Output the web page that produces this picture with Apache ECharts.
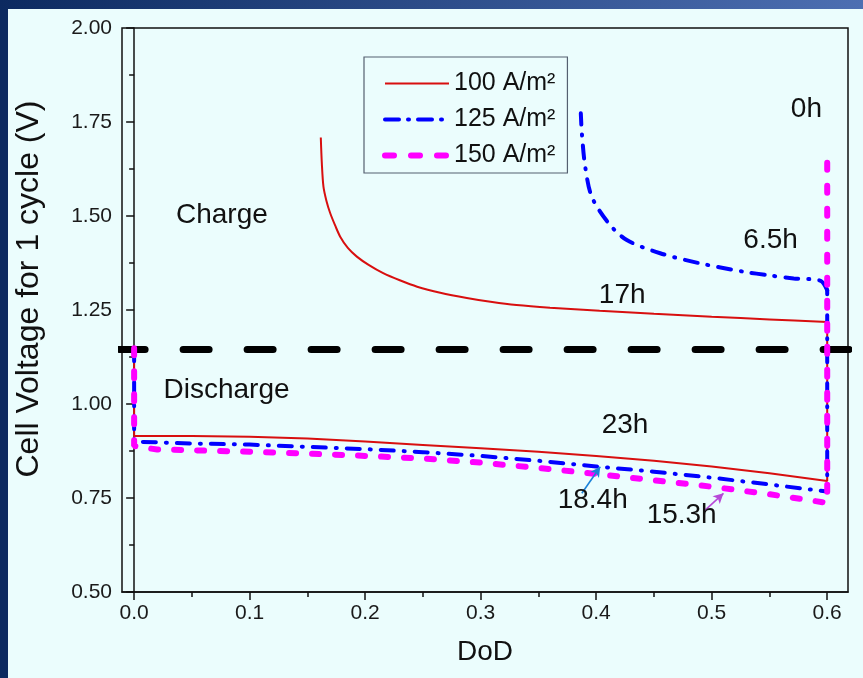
<!DOCTYPE html>
<html>
<head>
<meta charset="utf-8">
<script src="https://cdn.jsdelivr.net/npm/echarts@6/dist/echarts.min.js"></script>
<style>
  html, body { margin: 0; padding: 0; background: #ebfdfd; }
  #chart { width: 863px; height: 678px; }
</style>
</head>
<body>
<div id="chart"></div>
<script>
// DoD axis ticks
const dodMajorTicks = [0, 0.1, 0.2, 0.3, 0.4, 0.5, 0.6];
const dodMinorTicks = [0.05, 0.15, 0.25, 0.35, 0.45, 0.55];

// 100 A/m2: rest point, discharge (DoD, V), charge (DoD, V) from DoD 0.6 backwards
const rest100 = [[0, 1.148]];
const discharge100 = [[0, 0.915], [0.05, 0.915], [0.1, 0.913], [0.15, 0.908], [0.2, 0.900], [0.25, 0.891],
  [0.3, 0.882], [0.35, 0.873], [0.4, 0.862], [0.45, 0.849], [0.5, 0.834], [0.55, 0.816], [0.6, 0.795]];
const charge100 = [[0.6, 1.218], [0.55, 1.225], [0.5, 1.232], [0.45, 1.240], [0.403, 1.248], [0.36, 1.256],
  [0.331, 1.263], [0.31, 1.271], [0.288, 1.282], [0.265, 1.296], [0.245, 1.312], [0.23, 1.329],
  [0.2156, 1.348], [0.203, 1.370], [0.1928, 1.392], [0.185, 1.415], [0.1784, 1.445], [0.174, 1.475],
  [0.1697, 1.508], [0.1665, 1.540], [0.1639, 1.578], [0.1625, 1.640], [0.1616, 1.709]];

// 125 A/m2
const rest125 = [[0, 1.148]];
const discharge125 = [[0, 0.900], [0.05, 0.895], [0.1, 0.892], [0.15, 0.886], [0.2, 0.880], [0.25, 0.872],
  [0.3, 0.862], [0.35, 0.849], [0.4, 0.834], [0.45, 0.820], [0.5, 0.804], [0.55, 0.786], [0.6, 0.767]];
const charge125 = [[0.6, 1.303], [0.594, 1.328], [0.571, 1.334], [0.55, 1.342], [0.5275, 1.352], [0.49, 1.374],
  [0.4554, 1.401], [0.4265, 1.436], [0.4107, 1.481], [0.3962, 1.551], [0.3905, 1.631], [0.3876, 1.720],
  [0.3867, 1.773]];

// 150 A/m2
const rest150 = [[0, 1.148]];
const discharge150 = [[0, 0.888], [0.02, 0.879], [0.05, 0.877], [0.1, 0.873], [0.15, 0.868], [0.2, 0.862],
  [0.25, 0.855], [0.3, 0.844], [0.35, 0.830], [0.4, 0.814], [0.45, 0.797], [0.5, 0.780], [0.55, 0.760],
  [0.6, 0.737]];
const charge150 = [[0.6, 1.684]];

// Boundary between charge and discharge
const boundaryLine = [[-0.013, 1.145], [0.625, 1.145]];

// Text annotations: [DoD, V, text]
const notes = [
  [0.076, 1.503, 'Charge'],
  [0.080, 1.037, 'Discharge'],
  [0.4225, 1.29, '17h'],
  [0.551, 1.436, '6.5h'],
  [0.582, 1.785, '0h'],
  [0.425, 0.944, '23h'],
  [0.397, 0.744, '18.4h'],
  [0.474, 0.704, '15.3h']
];

// Pointer arrows: [tail, head]
const arrow184 = [[0.3876, 0.7625], [0.4035, 0.8333]];
const arrow153 = [[0.4929, 0.7136], [0.5102, 0.7625]];

const FONT = '"Liberation Sans", Arial, sans-serif';
const seriesNames = ['100 A/m²', '125 A/m²', '150 A/m²'];

const styles = [
  { color: '#d80f0f', width: 2, type: 'solid' },
  { color: '#0000ff', width: 4, type: [13, 10, 1, 10], cap: 'round' },
  { color: '#ff00ff', width: 6, type: [7, 16], cap: 'round' }
];
// Legend samples use slightly longer dashes
const legendStyles = [
  { color: '#d80f0f', width: 2, type: 'solid' },
  { color: '#0000ff', width: 4, type: [14, 9, 1, 9], cap: 'round' },
  { color: '#ff00ff', width: 6, type: [9, 17], cap: 'round' }
];

function currentSeries(i, rest, discharge, charge, z) {
  const ls = styles[i];
  return [
    {
      // rest -> discharge -> jump up to the start of charge
      name: seriesNames[i], type: 'line', symbol: 'none', clip: false,
      data: rest.concat(discharge, charge.slice(0, 1)),
      lineStyle: ls, itemStyle: { color: ls.color }, z: z
    },
    {
      name: seriesNames[i], type: 'line', symbol: 'none', clip: false, smooth: 0.3,
      data: charge,
      lineStyle: ls, itemStyle: { color: ls.color }, z: z
    }
  ];
}

const chart = echarts.init(document.getElementById('chart'), null, { renderer: 'canvas' });

const option = {
  backgroundColor: '#ebfdfd',
  animation: false,
  textStyle: { fontFamily: FONT },
  graphic: [
    { type: 'rect', left: 0, top: 0, shape: { width: 8, height: 678 }, style: { fill: '#0c2a60' }, z: 100 },
    {
      type: 'rect', left: 0, top: 0, shape: { width: 863, height: 9 }, z: 100,
      style: {
        fill: new echarts.graphic.LinearGradient(0, 0, 1, 0, [
          { offset: 0, color: '#0c2a60' },
          { offset: 1, color: '#4d6fb2' }
        ])
      }
    },
    {
      type: 'text', x: 29, y: 289, rotation: Math.PI / 2, z: 10,
      style: {
        text: 'Cell Voltage for 1 cycle (V)', fill: '#111', font: '32px "Liberation Sans", Arial, sans-serif',
        align: 'center', verticalAlign: 'middle'
      }
    }
  ],
  grid: {
    left: 122, top: 28, right: 15, bottom: 86,
    show: true, borderColor: '#111', borderWidth: 1.5, backgroundColor: 'transparent'
  },
  legend: {
    orient: 'vertical',
    left: 364, top: 57,
    padding: [14, 12, 5, 18],
    borderColor: '#556070', borderWidth: 1.2,
    itemWidth: 64, itemHeight: 14, itemGap: 11,
    itemStyle: { opacity: 0 },
    textStyle: { fontSize: 25, color: '#111', fontFamily: FONT, lineHeight: 24 },
    data: seriesNames.map((n, i) => ({ name: n, lineStyle: legendStyles[i] }))
  },
  xAxis: [
    {
      type: 'value', min: -0.0105, max: 0.618,
      name: 'DoD', nameLocation: 'middle', nameGap: 46,
      nameTextStyle: { fontSize: 28, color: '#111', fontFamily: FONT },
      axisLine: { show: true, lineStyle: { color: '#111', width: 1.5 } },
      axisTick: { show: true, inside: false, length: 8, lineStyle: { color: '#111', width: 1.5 }, customValues: dodMajorTicks },
      axisLabel: {
        show: true, fontSize: 21, color: '#1a1a1a', margin: 11, customValues: dodMajorTicks,
        formatter: v => v.toFixed(1)
      },
      splitLine: { show: false }
    },
    {
      type: 'value', min: -0.0105, max: 0.618, position: 'bottom',
      axisLine: { show: false },
      axisTick: { show: true, inside: false, length: 5, lineStyle: { color: '#111', width: 1.5 }, customValues: dodMinorTicks },
      axisLabel: { show: false },
      splitLine: { show: false }
    }
  ],
  yAxis: {
    type: 'value', min: 0.5, max: 2.0, interval: 0.25,
    axisLine: { show: true, lineStyle: { color: '#111', width: 1.5 } },
    axisTick: { show: true, inside: false, length: 8, lineStyle: { color: '#111', width: 1.5 } },
    minorTick: { show: true, splitNumber: 2, length: 5, lineStyle: { color: '#111', width: 1.5 } },
    axisLabel: { fontSize: 21, color: '#1a1a1a', margin: 10, formatter: v => v.toFixed(2) },
    splitLine: { show: false }
  },
  series: [
    {
      name: 'boundary', type: 'line', data: boundaryLine, symbol: 'none', clip: false, silent: true,
      lineStyle: { color: '#000', width: 7, type: [26, 38], cap: 'round' }, z: 1
    },
    ...currentSeries(0, rest100, discharge100, charge100, 2),
    ...currentSeries(1, rest125, discharge125, charge125, 3),
    ...currentSeries(2, rest150, discharge150, charge150, 4),
    {
      name: 'notes', type: 'scatter', symbolSize: 0, silent: true, z: 5,
      itemStyle: { opacity: 1 },
      data: notes.map(n => ({ value: [n[0], n[1]], label: { formatter: n[2] } })),
      label: { show: true, position: 'inside', fontSize: 28, color: '#111', opacity: 1, fontFamily: FONT }
    },
    {
      name: 'pointers', type: 'line', data: [], symbol: 'none', silent: true, z: 5,
      markLine: {
        silent: true, symbol: ['none', 'arrow'], symbolSize: [8, 10], label: { show: false },
        data: [
          [{ coord: arrow184[0], lineStyle: { color: '#1a82d8', width: 1.6, type: 'solid' } }, { coord: arrow184[1] }],
          [{ coord: arrow153[0], lineStyle: { color: '#b648d8', width: 1.6, type: 'solid' } }, { coord: arrow153[1] }]
        ]
      }
    }
  ]
};

chart.setOption(option);
</script>
</body>
</html>
